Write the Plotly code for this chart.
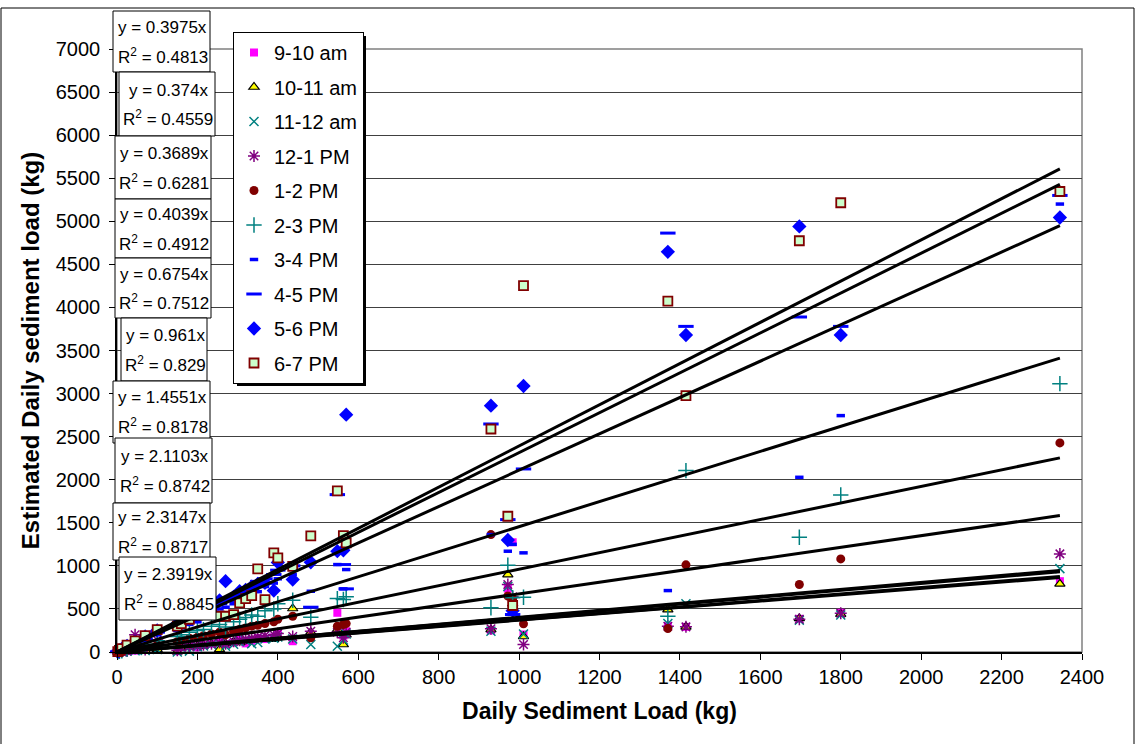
import plotly.graph_objects as go

# Daily sediment load (kg) for each sampled day
daily_load = [2, 6, 12, 25, 45, 70, 100, 150, 160, 180, 200, 215, 235, 255, 270, 290,
              305, 320, 335, 350, 368, 390, 400, 437, 482, 548, 563, 570, 930, 972,
              984, 1011, 1370, 1415, 1697, 1800, 2345]

# Estimated daily load (kg) from each hourly sample
est_9_10 = [1, 3, 5, 10, 15, 25, 35, 10, 60, 70, 55, 80, 95, 120, 90, 110, 140, 100, 130,
            160, 150, 170, 210, 125, 200, 455, 190, 240, 250, 737, 1274, 203, 300, 292,
            385, 455, 822]
est_10_11 = [1, 2, 4, 8, 12, 20, 30, 5, 50, 60, 70, 75, 90, 30, 100, 120, 110, 125, 140,
             150, 160, 150, 180, 505, 230, 261, 87, 200, 261, 899, 560, 180, 493, 292,
             390, 440, 791]
est_11_12 = [1, 2, 4, 9, 14, 18, 28, 0, 45, 10, 60, 70, 85, 100, 67, 90, 120, 130, 95,
             110, 150, 160, 175, 150, 87, 67, 140, 210, 240, 760, 590, 210, 330, 560,
             370, 430, 968]
est_12_1 = [1, 3, 6, 12, 200, 30, 140, 20, 55, 65, 75, 85, 95, 110, 95, 125, 135, 150,
            160, 175, 190, 200, 215, 180, 241, 230, 165, 230, 270, 783, 640, 87, 300,
            292, 380, 450, 1139]
est_1_2 = [2, 5, 10, 20, 35, 60, 80, 120, 140, 160, 170, 190, 210, 230, 200, 240, 260,
           280, 300, 310, 330, 350, 380, 415, 165, 300, 319, 330, 1363, 650, 620, 327,
           272, 1012, 783, 1081, 2427]
est_2_3 = [2, 8, 15, 35, 60, 90, 130, 180, 200, 230, 250, 260, 300, 320, 290, 350, 380,
           400, 430, 415, 480, 500, 560, 600, 404, 620, 609, 640, 513, 1007, 629, 636,
           415, 2106, 1332, 1824, 3115]
est_3_4 = [3, 10, 25, 50, 90, 140, 200, 250, 280, 320, 350, 400, 450, 500, 520, 560, 600,
           620, 680, 700, 760, 800, 850, 900, 705, 1015, 733, 957, 1363, 1170, 1250,
           1151, 713, 2990, 2028, 2744, 5200]
est_4_5 = [3, 12, 30, 60, 100, 150, 230, 300, 320, 370, 420, 450, 500, 560, 600, 620, 680,
           700, 760, 820, 850, 900, 950, 1000, 520, 1827, 1015, 733, 2647, 1537, 435,
           2125, 4863, 3780, 3889, 3780, 5300]
est_5_6 = [3, 15, 35, 70, 120, 180, 250, 330, 360, 400, 450, 480, 520, 600, 822, 640, 705,
           720, 760, 790, 803, 713, 1040, 841, 1042, 1170, 1180, 2755, 2860, 1300, 480,
           3088, 4646, 3680, 4940, 3680, 5044]
est_6_7 = [5, 20, 40, 80, 130, 190, 260, 300, 330, 380, 427, 440, 460, 415, 415, 435, 571,
           620, 655, 965, 609, 1151, 1093, 995, 1348, 1870, 1351, 1267, 2589, 1576, 540,
           4252, 4074, 2976, 4774, 5215, 5346]

series_names = ["9-10 am", "10-11 am", "11-12 am", "12-1 PM", "1-2 PM",
                "2-3 PM", "3-4 PM", "4-5 PM", "5-6 PM", "6-7 PM"]

# Zero-intercept trendlines: slope and R^2
trend_slopes = [0.3975, 0.374, 0.3689, 0.4039, 0.6754, 0.961, 1.4551, 2.1103, 2.3147, 2.3919]
trend_r2 = [0.4813, 0.4559, 0.6281, 0.4912, 0.7512, 0.829, 0.8178, 0.8742, 0.8717, 0.8845]

x_ticks = list(range(0, 2401, 200))
y_ticks = list(range(0, 7001, 500))

FONT = "Liberation Sans, Arial, sans-serif"

# marker styling per series
styles = [
    dict(symbol="square", size=8, color="#FF00FF", line=dict(width=0)),
    dict(symbol="triangle-up", size=9, color="#FFFF00", line=dict(width=1.2, color="#000000")),
    dict(symbol="x-thin", size=9, color="#008080", line=dict(width=1.5, color="#008080")),
    dict(symbol="asterisk", size=10, color="#800080", line=dict(width=1.5, color="#800080")),
    dict(symbol="circle", size=9, color="#800000", line=dict(width=0)),
    dict(symbol="cross-thin", size=11, color="#008080", line=dict(width=1.5, color="#008080")),
    dict(symbol="line-ew", size=6, color="#0000FF", line=dict(width=3.5, color="#0000FF")),
    dict(symbol="line-ew", size=11, color="#0000FF", line=dict(width=3, color="#0000FF")),
    dict(symbol="diamond", size=11, color="#0000FF", line=dict(width=0)),
    dict(symbol="square", size=9, color="#CCFFCC", line=dict(width=1.8, color="#800000")),
]
series_values = [est_9_10, est_10_11, est_11_12, est_12_1, est_1_2,
                 est_2_3, est_3_4, est_4_5, est_5_6, est_6_7]

fig = go.Figure()
for i, (name, vals, st) in enumerate(zip(series_names, series_values, styles)):
    fig.add_trace(go.Scatter(
        x=daily_load, y=vals, mode="markers", name=name,
        legendgroup=f"g{i}", marker=st, cliponaxis=False,
    ))

# trendlines through origin, spanning the data range
x_max = max(daily_load)
for k in trend_slopes:
    fig.add_trace(go.Scatter(
        x=[0, x_max], y=[0, k * x_max], mode="lines",
        line=dict(color="#000000", width=3), showlegend=False, hoverinfo="skip",
    ))

# plot-area geometry in pixels (used for placing boxes)
L, R, T, B = 117, 1082, 49, 652
W, H = R - L, B - T


def px_to_paper(px, py):
    return (px - L) / W, (B - py) / H


shapes = []
annotations = []

# equation boxes: (left, top, right, bottom) in px
box_geom = [(113, 11, 210, 72), (119, 72, 215, 136), (115, 136, 211, 199),
            (115, 199, 211, 258), (115, 258, 211, 318), (121, 318, 207, 381),
            (113, 381, 210, 443), (115, 438, 212, 503), (113, 503, 210, 560),
            (119, 557, 216, 620)]
for k, r2, (bx0, by0, bx1, by1) in zip(trend_slopes, trend_r2, box_geom):
    px0, py1 = px_to_paper(bx0, by0)
    px1, py0 = px_to_paper(bx1, by1)
    shapes.append(dict(type="rect", xref="paper", yref="paper",
                       x0=px0, x1=px1, y0=py0, y1=py1,
                       fillcolor="#FFFFFF", line=dict(color="#000000", width=1),
                       layer="above"))
    cx = (bx0 + bx1) / 2 + 1
    cy = (by0 + by1) / 2
    for dy, txt in ((-14, f"y = {k:g}x"), (14, f"R<sup>2</sup> = {r2:g}")):
        ax, ay = px_to_paper(cx, cy + dy)
        annotations.append(dict(
            x=ax, y=ay, xref="paper", yref="paper", xanchor="center", yanchor="middle",
            text=txt, showarrow=False,
            font=dict(family=FONT, size=17, color="#000000"),
        ))

# outer chart border
ox0, oy0 = px_to_paper(1, 8)
ox1, oy1 = px_to_paper(1134, 760)
shapes.append(dict(type="rect", xref="paper", yref="paper", x0=ox0, x1=ox1, y0=oy1, y1=oy0,
                   line=dict(color="#000000", width=1), layer="below"))
# plot-area frame
shapes.append(dict(type="rect", xref="paper", yref="paper", x0=0, x1=1, y0=0, y1=1,
                   line=dict(color="#808080", width=1.5), layer="below"))
# legend shadow
sx0, sy0 = px_to_paper(237, 36)
sx1, sy1 = px_to_paper(366, 386)
shapes.append(dict(type="rect", xref="paper", yref="paper", x0=sx0, x1=sx1, y0=sy1, y1=sy0,
                   fillcolor="#000000", line=dict(width=0), layer="above"))

lx, ly = px_to_paper(233, 32)

fig.update_layout(
    width=1135, height=744,
    margin=dict(l=L, r=1135 - R, t=T, b=744 - B),
    paper_bgcolor="#FFFFFF", plot_bgcolor="#FFFFFF",
    font=dict(family=FONT, color="#000000"),
    showlegend=True,
    legend=dict(
        x=lx, y=ly, xanchor="left", yanchor="top",
        bgcolor="#FFFFFF", bordercolor="#000000", borderwidth=1,
        font=dict(family=FONT, size=20, color="#000000"),
        tracegroupgap=5.5, itemwidth=30,
    ),
    annotations=annotations,
    shapes=shapes,
)

fig.update_xaxes(
    range=[0, 2400], tickvals=x_ticks, ticktext=[str(v) for v in x_ticks],
    showgrid=False, zeroline=False, showline=True, linecolor="#000000", linewidth=1.5,
    ticks="outside", ticklen=6, tickcolor="#000000", tickwidth=1,
    tickfont=dict(family=FONT, size=20, color="#000000"),
    title=dict(text="<b>Daily Sediment Load (kg)</b>", font=dict(family=FONT, size=23),
               standoff=16),
)
fig.update_yaxes(
    range=[0, 7000], tickvals=y_ticks, ticktext=[str(v) for v in y_ticks],
    showgrid=True, gridcolor="#404040", gridwidth=1, zeroline=False,
    showline=True, linecolor="#000000", linewidth=1.5,
    ticks="outside", ticklen=6, tickcolor="#000000", tickwidth=1,
    ticklabelstandoff=5,
    tickfont=dict(family=FONT, size=20, color="#000000"),
    title=dict(text="<b>Estimated Daily sediment load (kg)</b>", font=dict(family=FONT, size=24),
               standoff=9),
)

fig.write_html("out.html")
